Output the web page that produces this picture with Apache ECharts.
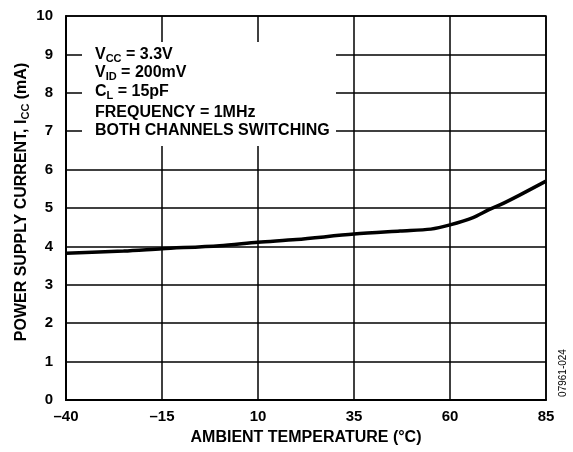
<!DOCTYPE html>
<html>
<head>
    <meta charset="utf-8">
    <title>Power Supply Current vs Ambient Temperature</title>
    <script src="https://cdn.jsdelivr.net/npm/echarts@6/dist/echarts.min.js"></script>
    <style>
        html, body { margin: 0; padding: 0; background: #fff; }
    </style>
</head>
<body>
    <div id="main" style="width: 573px;height:452px;"></div>
    <script type="text/javascript">
        // temperature (°C) and supply current (mA)
        var temps = [-40, -25, -15, 0, 10, 20, 35, 47, 55, 60, 66, 70, 73, 78, 85];
        var current = [3.82, 3.88, 3.94, 4.02, 4.11, 4.18, 4.32, 4.40, 4.45, 4.56, 4.75, 4.95, 5.08, 5.33, 5.70];
        var conditions = [
            'V{sub|CC} = 3.3V',
            'V{sub|ID} = 200mV',
            'C{sub|L} = 15pF',
            'FREQUENCY = 1MHz',
            'BOTH CHANNELS SWITCHING'
        ];
        var figId = '07961-024';

        var FONT = '"Liberation Sans", Arial, Helvetica, sans-serif';
        var subStyle = { fontSize: 11, fontWeight: 'bold', fontFamily: FONT, color: '#000', verticalAlign: 'bottom', lineHeight: 10 };

        var data = temps.map(function (t, i) { return [t, current[i]]; });

        var lineY = [55, 73, 92, 112.5, 131];
        var boxTexts = conditions.map(function (s, i) {
            return {
                type: 'text',
                x: 95,
                y: lineY[i],
                z: 101,
                style: {
                    text: s,
                    fill: '#000',
                    font: 'bold 16px ' + FONT,
                    verticalAlign: 'middle',
                    lineHeight: 18,
                    rich: { sub: subStyle }
                }
            };
        });

        var myChart = echarts.init(document.getElementById('main'));

        var option = {
            animation: false,
            backgroundColor: '#fff',
            grid: {
                left: 66, right: 27, top: 16, bottom: 52,
                show: true, borderColor: '#000', borderWidth: 1.5
            },
            xAxis: {
                type: 'value',
                min: -40, max: 85, interval: 25,
                name: 'AMBIENT TEMPERATURE (°C)',
                nameLocation: 'middle',
                nameGap: 30,
                nameMoveOverlap: false,
                nameTextStyle: { color: '#000', fontSize: 16, fontWeight: 'bold', fontFamily: FONT },
                axisLine: { onZero: false, lineStyle: { color: '#000', width: 2 } },
                axisTick: { show: false },
                axisLabel: {
                    color: '#000', fontSize: 15, fontWeight: 'bold', fontFamily: FONT, margin: 9,
                    formatter: function (v) { return String(v).replace('-', '\u2013'); }
                },
                splitLine: { show: true, lineStyle: { color: '#000', width: 1.5 } }
            },
            yAxis: {
                type: 'value',
                min: 0, max: 10, interval: 1,
                name: 'POWER SUPPLY CURRENT, I{sub|CC} (mA)',
                nameLocation: 'middle',
                nameGap: 35,
                nameMoveOverlap: false,
                nameTextStyle: {
                    color: '#000', fontSize: 16, fontWeight: 'bold', fontFamily: FONT,
                    lineHeight: 18,
                    padding: [0, 0, 0, 12],
                    rich: { sub: subStyle }
                },
                axisLine: { show: true, onZero: false, lineStyle: { color: '#000', width: 2 } },
                axisTick: { show: false },
                axisLabel: { color: '#000', fontSize: 15, fontWeight: 'bold', fontFamily: FONT, margin: 13 },
                splitLine: { show: true, lineStyle: { color: '#000', width: 1.5 } }
            },
            graphic: [
                {
                    type: 'rect',
                    shape: { x: 82, y: 42, width: 254, height: 104 },
                    z: 100,
                    style: { fill: '#fff' }
                }
            ].concat(boxTexts).concat([
                {
                    type: 'text',
                    x: 563,
                    y: 373,
                    rotation: Math.PI / 2,
                    z: 101,
                    style: {
                        text: figId,
                        fill: '#000',
                        font: '10px ' + FONT,
                        align: 'center',
                        verticalAlign: 'middle'
                    }
                }
            ]),
            series: [{
                type: 'line',
                data: data,
                smooth: 0.3,
                showSymbol: false,
                lineStyle: { color: '#000', width: 3.5 }
            }]
        };

        myChart.setOption(option);
    </script>
</body>
</html>
